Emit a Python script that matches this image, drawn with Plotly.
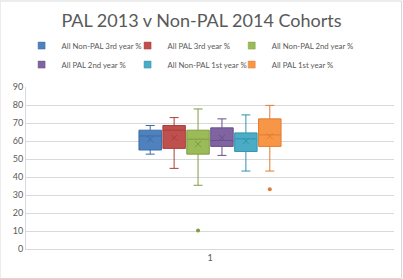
import plotly.graph_objects as go

category = ["1"]
series_names = ["All Non-PAL 3rd year %", "All PAL 3rd year %", "All Non-PAL 2nd year %",
                "All PAL 2nd year %", "All Non-PAL 1st year %", "All PAL 1st year %"]
lower_fence = [52.7, 44.8, 35.4, 52.0, 43.3, 43.3]
q1_values = [55.0, 55.9, 52.7, 57.0, 54.2, 57.0]
median_values = [62.8, 66.0, 61.0, 60.3, 61.2, 63.4]
q3_values = [66.0, 68.6, 66.0, 67.3, 64.5, 72.3]
upper_fence = [68.6, 73.0, 77.8, 72.3, 74.5, 79.8]
mean_values = [60.9, 61.8, 58.3, 61.8, 59.9, 62.7]
outliers = [[], [], [10.3], [], [], [33.2]]
y_ticks = [0, 10, 20, 30, 40, 50, 60, 70, 80, 90]

fill_colors = ["#4F81BD", "#C0504D", "#9BBB59", "#8064A2", "#4BACC6", "#F79646"]
line_colors = ["#3A6CA8", "#A63F3C", "#7E9C42", "#66508A", "#3393AD", "#E07D33"]

fig = go.Figure()
for i, name in enumerate(series_names):
    if outliers[i]:
        kw = dict(y=[outliers[i]], boxpoints="outliers",
                  marker=dict(color=line_colors[i], size=4))
    else:
        kw = dict(boxpoints=False)
    fig.add_trace(go.Box(
        name=name, x=category, legendgroup=name, showlegend=False,
        q1=[q1_values[i]], median=[median_values[i]], q3=[q3_values[i]],
        lowerfence=[lower_fence[i]], upperfence=[upper_fence[i]],
        fillcolor=fill_colors[i], line=dict(color=line_colors[i], width=1),
        whiskerwidth=0.4, offsetgroup=str(i), **kw))

for i, name in enumerate(series_names):
    fig.add_trace(go.Scatter(
        x=category, y=[mean_values[i]], mode="markers", showlegend=False,
        offsetgroup=str(i), legendgroup=name,
        marker=dict(symbol="x-thin", size=6, line=dict(color=line_colors[i], width=1)),
        hoverinfo="skip"))

# legend entries (square swatches like the original), laid out in three columns
legend_ids = ["legend", "legend2", "legend3"]
for i, name in enumerate(series_names):
    fig.add_trace(go.Scatter(
        x=[None], y=[None], mode="markers", name=name, legendgroup=name,
        legend=legend_ids[i % 3],
        marker=dict(symbol="square", size=7, color=fill_colors[i],
                    line=dict(color=line_colors[i], width=0.5))))

legend_style = dict(orientation="v", y=1.345, xanchor="left", yanchor="top",
                    font=dict(size=7.8, color="#595959"), tracegroupgap=0,
                    itemwidth=30, bgcolor="rgba(0,0,0,0)")

fig.update_layout(
    width=403, height=279,
    margin=dict(l=26, r=9, t=87, b=30),
    paper_bgcolor="white", plot_bgcolor="white",
    font=dict(family="Lato, 'Open Sans', sans-serif", color="#595959"),
    title=dict(text="PAL 2013 v Non-PAL 2014 Cohorts", x=0.5, xanchor="center",
               y=0.925, yanchor="middle", font=dict(size=18, color="#595959")),
    boxmode="group", boxgap=0.61, boxgroupgap=0.06,
    scattermode="group", scattergap=0.61,
    legend=dict(x=-0.012, **legend_style),
    legend2=dict(x=0.276, **legend_style),
    legend3=dict(x=0.559, **legend_style),
    xaxis=dict(type="category", range=[-0.5, 0.5], showgrid=False,
               showline=True, linecolor="#D9D9D9", ticks="",
               tickfont=dict(size=9, color="#595959")),
    yaxis=dict(range=[0, 90], tickvals=y_ticks, showgrid=True, gridcolor="#D9D9D9",
               gridwidth=1, showline=True, linecolor="#D9D9D9", zeroline=False,
               tickfont=dict(size=9, color="#595959"), ticks=""),
    shapes=[dict(type="rect", xref="paper", yref="paper",
                 x0=-26/368, x1=375.5/368, y0=-29.5/162, y1=248/162,
                 line=dict(color="#D9D9D9", width=1), fillcolor="rgba(0,0,0,0)")],
)

fig.write_html("out.html")
